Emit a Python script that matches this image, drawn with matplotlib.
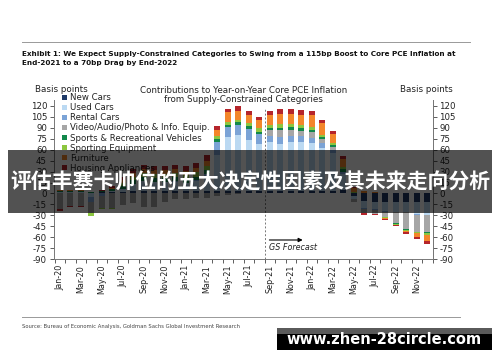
import matplotlib
matplotlib.use("Agg")
import matplotlib.pyplot as plt
import numpy as np
from matplotlib.patches import Rectangle, Patch

months = ["Jan-20","Feb-20","Mar-20","Apr-20","May-20","Jun-20","Jul-20","Aug-20","Sep-20","Oct-20","Nov-20","Dec-20",
          "Jan-21","Feb-21","Mar-21","Apr-21","May-21","Jun-21","Jul-21","Aug-21","Sep-21","Oct-21","Nov-21","Dec-21",
          "Jan-22","Feb-22","Mar-22","Apr-22","May-22","Jun-22","Jul-22","Aug-22","Sep-22","Oct-22","Nov-22","Dec-22"]

new_cars     = [1, 1, 1, 1, 2, 2, 2, 3, 3, 3, 3, 3,   3, 3, 3, 3, 3, 3, 3, 3, 3, 3, 3, 3,   3, 3, 3, 5, -3, -10, -11, -12, -12, -12, -12, -12]
used_cars    = [1, 1, 1, -5, 0, 1, 4, 10, 14, 13, 13, 13,  12, 14, 17, 50, 74, 77, 70, 64, 67, 65, 68, 68,  66, 59, 53, 22, -5, -10, -10, -12, -13, -13, -16, -17]
rental_cars  = [0, 0, 0, -6, -3, 0, 0, 0, 0, 0, 0, 1,   0, 1, 6, 17, 14, 14, 15, 14, 8, 9, 7, 7,   7, 7, 4, 3, 0, -1, -1, -1, -1, -1, -1, -1]
video_equip  = [-21, -17, -17, -16, -17, -20, -16, -13, -19, -18.5, -12, -8,  -7, -6.5, -5.5, -3.5, -2, -1, 0, 0, 9, 10, 9, 8,  8, 5, 3, 0, -3, -6, -6, -7, -15, -23, -23, -23]
sports_rec   = [1, 1, 1, 1, 1, 3, 4, 5, 5, 5, 5, 5,   5, 5, 6, 4, 3, 4, 4, 3, 3, 3, 4, 4,   3, 3, 3, 3, 1, 1, 0, -0.5, -0.5, -0.5, -0.5, -0.5]
sporting_eq  = [1, 1, 1, -4, -1.6, -1.6, 4, 5, 6, 6, 6, 6,  5, 6, 6, 4, 4, 3, 4, 5, 4, 5, 4, 4,   4, 3, 3, 3, 1, 0, -0.5, -0.5, -1, -1.5, -2, -3]
furniture    = [1, 1, 1, 0, 1, 2, 4, 5, 5, 5, 5, 5,   6, 6, 7, 9, 13, 12, 11, 11, 13, 14, 14, 14,  16, 16, 13, 11, 5, 3, 2, -1.5, -1, -2.2, -5, -8]
housing_app  = [-3, -2, -2, 0, 1, 2, 4, 5, 6, 6, 6, 6,   6, 6, 7, 5, 5, 6, 6, 5, 6, 6, 6, 6,   6, 4, 4, 4, 2, -2.5, -1, -1.5, -1.5, -2.3, -3, -5]

series_names = ["New Cars", "Used Cars", "Rental Cars", "Video/Audio/Photo & Info. Equip.",
                "Sports & Recreational Vehicles", "Sporting Equipment", "Furniture", "Housing Appliances"]
series_vals = [new_cars, used_cars, rental_cars, video_equip, sports_rec, sporting_eq, furniture, housing_app]
colors = ["#1F3A68", "#BBD9F2", "#7BA3D6", "#A6A6A6", "#12884A", "#8CC63F", "#F3862A", "#B5252B"]

yticks = list(range(-90, 121, 15))

fig = plt.figure(figsize=(5.0, 3.62), dpi=100)
fig.patch.set_facecolor("white")
ax = fig.add_axes([0.108, 0.2837, 0.757, 0.4404])

x = np.arange(len(months))
pos_base = np.zeros(len(months))
neg_base = np.zeros(len(months))
for vals, c in zip(series_vals, colors):
    v = np.array(vals, dtype=float)
    p = np.where(v > 0, v, 0)
    n = np.where(v < 0, v, 0)
    ax.bar(x, p, bottom=pos_base, width=0.58, color=c, linewidth=0)
    ax.bar(x, n, bottom=neg_base, width=0.58, color=c, linewidth=0)
    pos_base += p
    neg_base += n

ax.set_xlim(-0.55, len(months) - 0.5)
ax.set_ylim(-90, 128)
ax.set_yticks(yticks)
ax.set_yticklabels([str(t) for t in yticks], fontsize=6.2, color="#222222")
ax.tick_params(axis="y", length=3, width=0.6, pad=2, colors="#444444", labelcolor="#222222")
ax.set_xticks(x[::2])
ax.set_xticklabels(months[::2], rotation=90, fontsize=5.8, color="#222222")
ax.set_xticks(np.arange(-0.5, len(months), 1), minor=True)
ax.tick_params(axis="x", which="major", length=0, pad=4)
ax.tick_params(axis="x", which="minor", length=3, width=0.6, colors="#444444")
ax.spines["top"].set_visible(False)
for s in ["left", "right", "bottom"]:
    ax.spines[s].set_color("#777777")
    ax.spines[s].set_linewidth(0.7)

ax2 = ax.twinx()
ax2.set_ylim(-90, 128)
ax2.set_yticks(yticks)
ax2.set_yticklabels([str(t) for t in yticks], fontsize=6.2, color="#222222")
ax2.tick_params(axis="y", length=3, width=0.6, pad=2, colors="#444444", labelcolor="#222222")
ax2.spines["top"].set_visible(False)
ax2.spines["left"].set_visible(False)
ax2.spines["bottom"].set_visible(False)
ax2.spines["right"].set_color("#777777")
ax2.spines["right"].set_linewidth(0.7)

ax.plot([19.5, 19.5], [-90, 117], linestyle=(0, (2, 2)), color="#777777", linewidth=0.7)
ax.annotate("", xy=(23.4, -63.6), xytext=(19.7, -63.6),
            arrowprops=dict(arrowstyle="-|>", color="black", lw=0.8, mutation_scale=6))
ax.text(19.9, -74.5, "GS Forecast", fontsize=5.8, style="italic", color="#222222", va="center", ha="left")

handles = [Patch(facecolor=c, edgecolor="none") for c in colors]
leg = ax.legend(handles, series_names, loc="upper left", bbox_to_anchor=(0.124, 0.742),
                bbox_transform=fig.transFigure, frameon=False, fontsize=6.2,
                handlelength=0.55, handleheight=0.55, handletextpad=0.35, labelspacing=0.12, borderpad=0, borderaxespad=0)
for t in leg.get_texts():
    t.set_color("#222222")

fig.text(0.07, 0.752, "Basis points", fontsize=6.3, color="#222222", va="center")
fig.text(0.80, 0.752, "Basis points", fontsize=6.3, color="#222222", va="center")
fig.text(0.487, 0.737, "Contributions to Year-on-Year Core PCE Inflation\nfrom Supply-Constrained Categories",
         fontsize=6.3, color="#222222", ha="center", va="center", linespacing=1.05)

# header
fig.add_artist(plt.Line2D([0.044, 0.94], [1 - 41.7/362, 1 - 41.7/362], color="#999999", lw=0.7))
fig.text(0.044, 1 - 54/362, "Exhibit 1: We Expect Supply-Constrained Categories to Swing from a 115bp Boost to Core PCE Inflation at",
         fontsize=5.2, fontweight="bold", family=["Liberation Sans Narrow", "DejaVu Sans"], color="#111111", va="center")
fig.text(0.044, 1 - 63.5/362, "End-2021 to a 70bp Drag by End-2022",
         fontsize=5.2, fontweight="bold", family=["Liberation Sans Narrow", "DejaVu Sans"], color="#111111", va="center")
fig.add_artist(plt.Line2D([0.044, 0.92], [1 - 317/362, 1 - 317/362], color="#999999", lw=0.7))
fig.text(0.044, 1 - 326.5/362, "Source: Bureau of Economic Analysis, Goldman Sachs Global Investment Research",
         fontsize=3.8, family=["Liberation Sans Narrow", "DejaVu Sans"], color="#444444", va="center")

# overlay banner
fig.add_artist(Rectangle((8/500, 1 - 212.7/362), 484/500, 62.7/362, transform=fig.transFigure,
                         facecolor="black", alpha=0.68, edgecolor="none", zorder=10))
fig.text(0.5, 1 - 181/362, "评估丰塞卡帅位的五大决定性因素及其未来走向分析", fontsize=15, fontweight="bold",
         family=["Noto Sans CJK SC", "DejaVu Sans"], color="white", ha="center", va="center", zorder=11)

# watermark
fig.add_artist(Rectangle((277/500, 1 - 334/362), 215/500, 6/362, transform=fig.transFigure,
                         facecolor="#5a5a5a", edgecolor="none", zorder=10))
fig.add_artist(Rectangle((277/500, 1 - 350/362), 215/500, 16/362, transform=fig.transFigure,
                         facecolor="black", edgecolor="none", zorder=10))
fig.text(384.5/500, 1 - 339/362, "www.zhen-28circle.com", fontsize=10.5, fontweight="bold",
         color="white", ha="center", va="center", zorder=11)

fig.savefig("out.png", dpi=100)
